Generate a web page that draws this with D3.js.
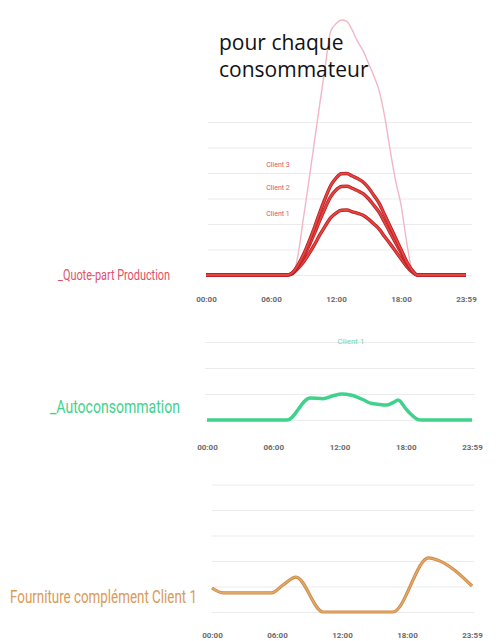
<!DOCTYPE html>
<html><head><meta charset="utf-8">
<script src="https://cdn.jsdelivr.net/npm/d3@7"></script>
<style>body{margin:0;background:#fff}svg{display:block}</style>
</head><body>
<script>
// ---- data ----
const tickHours = [0, 6, 12, 18, 24];
const tickLabels = ["00:00", "06:00", "12:00", "18:00", "23:59"];

// Panel 1: quote-part production
const prodHours = [0, 4, 7, 7.5, 8, 8.5, 9, 9.5, 10, 10.5, 11, 11.5, 12, 12.5, 13, 13.5, 14, 14.5, 15, 15.5, 16, 16.5, 17, 17.5, 18, 18.5, 19, 19.5, 20, 24];
const productionTotale = [0, 0, 0, 0, 0, 0.8, 2.25, 3.7, 5.2, 6.7, 8.15, 9.55, 9.85, 10.0, 9.95, 9.6, 9.15, 8.8, 8.3, 7.8, 7.2, 6.2, 4.9, 3.7, 2.75, 1.35, 0.25, 0, 0, 0];
const client3 = [0, 0, 0, 0, 0.1, 0.4, 0.8, 1.3, 1.85, 2.45, 3.0, 3.5, 3.8, 3.97, 3.98, 3.88, 3.78, 3.65, 3.42, 3.12, 2.8, 2.35, 1.9, 1.45, 1.0, 0.55, 0.2, 0, 0, 0];
const client2 = [0, 0, 0, 0, 0.09, 0.35, 0.7, 1.14, 1.62, 2.14, 2.63, 3.06, 3.33, 3.47, 3.48, 3.4, 3.3, 3.19, 2.99, 2.73, 2.45, 2.06, 1.66, 1.27, 0.88, 0.48, 0.18, 0, 0, 0];
const client1 = [0, 0, 0, 0, 0.06, 0.26, 0.51, 0.83, 1.18, 1.57, 1.92, 2.24, 2.43, 2.54, 2.55, 2.48, 2.42, 2.34, 2.19, 2.0, 1.79, 1.5, 1.22, 0.93, 0.64, 0.35, 0.13, 0, 0, 0];
const clientNames = ["Client 3", "Client 2", "Client 1"];

// Panel 2: autoconsommation client 1
const autoHours = [0, 7.25, 9.33, 10.5, 11.4, 12.2, 13.0, 13.6, 14.2, 14.8, 15.6, 16.3, 16.9, 17.3, 18.1, 19.3, 24];
const autoconsommation = [0, 0, 0.85, 0.82, 0.93, 1.0, 0.96, 0.88, 0.77, 0.65, 0.6, 0.58, 0.68, 0.77, 0.38, 0, 0];

// Panel 3: fourniture complement client 1
const fournHours = [0, 1.0, 5.5, 6.55, 7.75, 10.25, 16.7, 20.0, 20.8, 24];
const fourniture = [0.94, 0.75, 0.75, 1.06, 1.37, 0, 0, 2.12, 2.04, 1.02];

const titleLines = ["pour chaque", "consommateur"];
const panelLabels = ["_Quote-part Production", "_Autoconsommation", "_Fourniture complément Client 1"];

// ---- drawing ----
const svg = d3.select("body").append("svg").attr("width", 498).attr("height", 641);

function panel(cfg) {
  const x = d3.scaleLinear().domain([0, 24]).range(cfg.xr);
  const y = d3.scaleLinear().domain([0, cfg.ymax]).range([cfg.base, cfg.base - cfg.ymax * cfg.unit]);
  const g = svg.append("g");
  const grid = g.append("g").attr("transform", `translate(${cfg.gx[0]},0)`)
    .call(d3.axisLeft(y).tickValues(d3.range(0, cfg.grid + 1)).tickSize(-(cfg.gx[1] - cfg.gx[0])).tickFormat(""));
  grid.select(".domain").remove();
  grid.selectAll("line").attr("stroke", "#ebebeb").attr("stroke-width", 1);
  const ax = g.append("g").attr("transform", `translate(0,${cfg.tickY})`)
    .call(d3.axisBottom(x).tickValues(tickHours).tickSize(0).tickFormat((d, i) => tickLabels[i]));
  ax.select(".domain").remove();
  ax.selectAll("text").attr("dy", 0).attr("dominant-baseline", "middle")
    .attr("font-family", "Roboto, sans-serif").attr("font-size", 8).attr("font-weight", "bold").attr("fill", "#6a6a6a");
  return {x, y, g};
}

// Panel 1
const p1 = panel({xr: [206, 466], base: 275, unit: 25.5, ymax: 10, grid: 6, gx: [208, 472], tickY: 297});
const line1 = d3.line().x((d, i) => p1.x(prodHours[i])).y(d => p1.y(d)).curve(d3.curveMonotoneX);
p1.g.append("path").attr("d", line1(productionTotale)).attr("fill", "none").attr("stroke", "#f2b6c4").attr("stroke-width", 1.4);
[client1, client2, client3].forEach(s => {
  p1.g.append("path").attr("d", line1(s)).attr("fill", "none").attr("stroke", "#b5202a").attr("stroke-width", 3.4);
  p1.g.append("path").attr("d", line1(s)).attr("fill", "none").attr("stroke", "#e8443c").attr("stroke-width", 1.8);
});
const clientLabelY = [165, 188, 214];
clientNames.forEach((n, i) => {
  p1.g.append("text").attr("x", 278).attr("y", clientLabelY[i]).attr("text-anchor", "middle")
    .attr("dominant-baseline", "middle").attr("font-family", "Roboto, sans-serif").attr("font-size", 7)
    .attr("fill", "#dc5560").text(n);
});

// Panel 2
const p2 = panel({xr: [207, 472], base: 420, unit: 26, ymax: 3, grid: 3, gx: [205, 475], tickY: 445});
const line2 = d3.line().x((d, i) => p2.x(autoHours[i])).y(d => p2.y(d)).curve(d3.curveMonotoneX);
p2.g.append("path").attr("d", line2(autoconsommation)).attr("fill", "none").attr("stroke", "#3fd28c").attr("stroke-width", 3.5);
p2.g.append("text").attr("x", 351).attr("y", 342).attr("text-anchor", "middle").attr("dominant-baseline", "middle")
  .attr("font-family", "Roboto, sans-serif").attr("font-size", 8).attr("fill", "#6edaa6").text("Client 1");

// Panel 3
const p3 = panel({xr: [212, 472], base: 612, unit: 25.5, ymax: 5, grid: 5, gx: [212, 474], tickY: 633});
const line3 = d3.line().x((d, i) => p3.x(fournHours[i])).y(d => p3.y(d)).curve(d3.curveMonotoneX);
p3.g.append("path").attr("d", line3(fourniture)).attr("fill", "none").attr("stroke", "#c98848").attr("stroke-width", 3.2);
p3.g.append("path").attr("d", line3(fourniture)).attr("fill", "none").attr("stroke", "#e2a867").attr("stroke-width", 1.6);

// Left labels
const labelCfg = [
  {x: 58, y: 280, w: 112, fs: 14, c: "#e0506a"},
  {x: 50, y: 413, w: 130, fs: 18, c: "#3fd28c"},
  {x: 10, y: 603, w: 187, fs: 18, c: "#d99a58"}
];
panelLabels.forEach((t, i) => {
  const c = labelCfg[i];
  const txt = i === 2 ? t.slice(1) : t;
  svg.append("text").attr("x", c.x).attr("y", c.y).attr("font-family", "'Liberation Sans Narrow', Roboto, sans-serif")
    .attr("font-size", c.fs).attr("fill", c.c).attr("textLength", c.w).attr("lengthAdjust", "spacingAndGlyphs").text(txt);
});

// Title
titleLines.forEach((t, i) => {
  svg.append("text").attr("x", 219).attr("y", 50 + i * 27).attr("font-family", "'Open Sans', sans-serif")
    .attr("font-size", 21).attr("fill", "#111").text(t);
});
</script>
</body></html>
